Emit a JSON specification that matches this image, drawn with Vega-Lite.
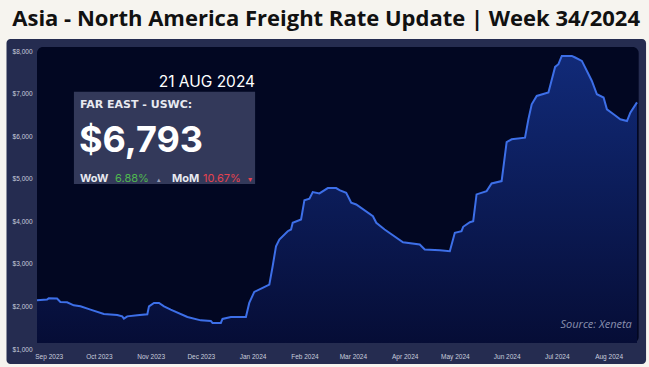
{
  "$schema": "https://vega.github.io/schema/vega-lite/v6.json",
  "autosize": {"type": "none"},
  "padding": {"left": 37, "top": 51, "right": 12, "bottom": 18},
  "width": 600,
  "height": 298,
  "background": "#f6f4ef",
  "config": {"view": {"stroke": null}},
  "data": {"values": [
    {"date": "2023-08-25", "rate": 2144},
    {"date": "2023-08-31", "rate": 2160},
    {"date": "2023-09-01", "rate": 2190},
    {"date": "2023-09-06", "rate": 2184},
    {"date": "2023-09-08", "rate": 2106},
    {"date": "2023-09-12", "rate": 2096},
    {"date": "2023-09-16", "rate": 2026},
    {"date": "2023-09-20", "rate": 2002},
    {"date": "2023-09-26", "rate": 1925},
    {"date": "2023-10-04", "rate": 1824},
    {"date": "2023-10-12", "rate": 1800},
    {"date": "2023-10-15", "rate": 1767},
    {"date": "2023-10-16", "rate": 1713},
    {"date": "2023-10-18", "rate": 1767},
    {"date": "2023-10-24", "rate": 1791},
    {"date": "2023-10-30", "rate": 1814},
    {"date": "2023-10-31", "rate": 2002},
    {"date": "2023-11-03", "rate": 2082},
    {"date": "2023-11-06", "rate": 2082},
    {"date": "2023-11-09", "rate": 2002},
    {"date": "2023-11-13", "rate": 1925},
    {"date": "2023-11-23", "rate": 1753},
    {"date": "2023-12-01", "rate": 1673},
    {"date": "2023-12-07", "rate": 1659},
    {"date": "2023-12-08", "rate": 1612},
    {"date": "2023-12-13", "rate": 1612},
    {"date": "2023-12-14", "rate": 1706},
    {"date": "2023-12-19", "rate": 1753},
    {"date": "2023-12-28", "rate": 1753},
    {"date": "2023-12-30", "rate": 2082},
    {"date": "2024-01-02", "rate": 2341},
    {"date": "2024-01-07", "rate": 2435},
    {"date": "2024-01-11", "rate": 2513},
    {"date": "2024-01-13", "rate": 2944},
    {"date": "2024-01-15", "rate": 3414},
    {"date": "2024-01-17", "rate": 3572},
    {"date": "2024-01-22", "rate": 3767},
    {"date": "2024-01-24", "rate": 3807},
    {"date": "2024-01-25", "rate": 3965},
    {"date": "2024-01-30", "rate": 4042},
    {"date": "2024-02-01", "rate": 4496},
    {"date": "2024-02-04", "rate": 4529},
    {"date": "2024-02-06", "rate": 4685},
    {"date": "2024-02-10", "rate": 4654},
    {"date": "2024-02-15", "rate": 4779},
    {"date": "2024-02-20", "rate": 4779},
    {"date": "2024-02-22", "rate": 4732},
    {"date": "2024-02-26", "rate": 4671},
    {"date": "2024-02-29", "rate": 4435},
    {"date": "2024-03-03", "rate": 4395},
    {"date": "2024-03-13", "rate": 4120},
    {"date": "2024-03-15", "rate": 3965},
    {"date": "2024-03-20", "rate": 3807},
    {"date": "2024-03-31", "rate": 3508},
    {"date": "2024-04-10", "rate": 3454},
    {"date": "2024-04-13", "rate": 3336},
    {"date": "2024-04-22", "rate": 3320},
    {"date": "2024-04-28", "rate": 3296},
    {"date": "2024-05-01", "rate": 3729},
    {"date": "2024-05-05", "rate": 3767},
    {"date": "2024-05-06", "rate": 3871},
    {"date": "2024-05-10", "rate": 3979},
    {"date": "2024-05-12", "rate": 4002},
    {"date": "2024-05-14", "rate": 4631},
    {"date": "2024-05-20", "rate": 4708},
    {"date": "2024-05-23", "rate": 4889},
    {"date": "2024-05-29", "rate": 4944},
    {"date": "2024-06-01", "rate": 5861},
    {"date": "2024-06-04", "rate": 5925},
    {"date": "2024-06-12", "rate": 5965},
    {"date": "2024-06-14", "rate": 6395},
    {"date": "2024-06-16", "rate": 6748},
    {"date": "2024-06-19", "rate": 6944},
    {"date": "2024-06-26", "rate": 7024},
    {"date": "2024-06-30", "rate": 7626},
    {"date": "2024-07-02", "rate": 7689},
    {"date": "2024-07-04", "rate": 7885},
    {"date": "2024-07-10", "rate": 7885},
    {"date": "2024-07-12", "rate": 7847},
    {"date": "2024-07-16", "rate": 7767},
    {"date": "2024-07-20", "rate": 7454},
    {"date": "2024-07-22", "rate": 7296},
    {"date": "2024-07-25", "rate": 6984},
    {"date": "2024-07-29", "rate": 6906},
    {"date": "2024-07-31", "rate": 6631},
    {"date": "2024-08-04", "rate": 6513},
    {"date": "2024-08-08", "rate": 6395},
    {"date": "2024-08-12", "rate": 6355},
    {"date": "2024-08-14", "rate": 6553},
    {"date": "2024-08-18", "rate": 6793}
  ]},
  "layer": [
    {
      "data": {"values": [{}]},
      "mark": {"type": "rect", "color": "#252c50", "cornerRadius": 4},
      "encoding": {
        "x": {"datum": {"year": 2023, "month": 8, "date": 6, "hours": 18}, "type": "temporal"},
        "x2": {"datum": {"year": 2024, "month": 8, "date": 23, "hours": 10}},
        "y": {"datum": 8282, "type": "quantitative"},
        "y2": {"datum": 648}
      }
    },
    {
      "data": {"values": [{}]},
      "mark": {"type": "rect", "color": "#020722", "cornerRadius": 6},
      "encoding": {
        "x": {"datum": {"year": 2023, "month": 8, "date": 25}, "type": "temporal"},
        "x2": {"datum": {"year": 2024, "month": 8, "date": 19}},
        "y": {"datum": 8095, "type": "quantitative"},
        "y2": {"datum": 1140}
      }
    },
    {
      "mark": {"type": "area", "interpolate": "linear", "color": {"gradient": "linear", "x1": 0, "y1": 0, "x2": 0, "y2": 1, "stops": [{"offset": 0, "color": "#112a78"}, {"offset": 1, "color": "#060d36"}]}},
      "encoding": {
        "x": {"field": "date", "type": "temporal"},
        "y": {"field": "rate", "type": "quantitative"},
        "y2": {"datum": 1140}
      }
    },
    {
      "mark": {"type": "line", "color": "#3d6fe8", "strokeWidth": 2},
      "encoding": {
        "x": {
          "field": "date", "type": "temporal",
          "scale": {"domain": [{"year": 2023, "month": 8, "date": 25}, {"year": 2024, "month": 8, "date": 18}]},
          "axis": {"title": null, "format": "%b %Y", "tickCount": {"interval": "month", "step": 1}, "labelFlush": false, "labelOverlap": false, "labelPadding": 4, "ticks": false, "domain": false, "grid": false, "zindex": 1, "labelFont": "Liberation Sans", "labelFontSize": 6.5, "labelColor": "#c9ccdd"}
        },
        "y": {
          "field": "rate", "type": "quantitative",
          "scale": {"domain": [1000, 8000], "nice": false, "zero": false},
          "axis": {"title": null, "values": [1000, 2000, 3000, 4000, 5000, 6000, 7000, 8000], "format": "$,.0f", "labelPadding": 5, "ticks": false, "domain": false, "grid": false, "zindex": 1, "labelFont": "Liberation Sans", "labelFontSize": 6.5, "labelColor": "#c9ccdd"}
        }
      }
    },
    {
      "data": {"values": [{}]},
      "mark": {"type": "rect", "color": "#363c5e", "opacity": 0.95},
      "encoding": {
        "x": {"datum": {"year": 2023, "month": 9, "date": 16, "hours": 2}, "type": "temporal"},
        "x2": {"datum": {"year": 2024, "month": 1, "date": 2, "hours": 12}},
        "y": {"datum": 7044, "type": "quantitative"},
        "y2": {"datum": 4876}
      }
    },
    {
      "data": {"values": [{}]},
      "mark": {"type": "text", "text": "Asia - North America Freight Rate Update | Week 34/2024", "font": "Open Sans", "fontWeight": "bold", "fontSize": 22, "color": "#111111", "align": "center", "baseline": "alphabetic"},
      "encoding": {
        "x": {"datum": {"year": 2024, "month": 2, "date": 14}, "type": "temporal"},
        "y": {"datum": 8588, "type": "quantitative"}
      }
    },
    {
      "data": {"values": [{}]},
      "mark": {"type": "text", "text": "21 AUG 2024", "font": "Inter", "fontSize": 15.5, "color": "#ffffff", "align": "right", "baseline": "alphabetic"},
      "encoding": {
        "x": {"datum": {"year": 2024, "month": 1, "date": 2, "hours": 12}, "type": "temporal"},
        "y": {"datum": 7148, "type": "quantitative"}
      }
    },
    {
      "data": {"values": [{}]},
      "mark": {"type": "text", "text": "FAR EAST - USWC:", "font": "DejaVu Sans", "fontWeight": "bold", "fontSize": 11, "color": "#e8e9f0", "align": "left", "baseline": "alphabetic"},
      "encoding": {
        "x": {"datum": {"year": 2023, "month": 9, "date": 19, "hours": 17}, "type": "temporal"},
        "y": {"datum": 6661, "type": "quantitative"}
      }
    },
    {
      "data": {"values": [{}]},
      "mark": {"type": "text", "text": "$6,793", "font": "Inter", "fontWeight": "bold", "fontSize": 36, "color": "#ffffff", "align": "left", "baseline": "alphabetic"},
      "encoding": {
        "x": {"datum": {"year": 2023, "month": 9, "date": 19, "hours": 2}, "type": "temporal"},
        "y": {"datum": 5628, "type": "quantitative"}
      }
    },
    {
      "data": {"values": [{}]},
      "mark": {"type": "text", "text": "WoW", "font": "Inter", "fontWeight": "bold", "fontSize": 11, "color": "#e8e9f0", "align": "left", "baseline": "alphabetic"},
      "encoding": {
        "x": {"datum": {"year": 2023, "month": 9, "date": 19, "hours": 17}, "type": "temporal"},
        "y": {"datum": 4930, "type": "quantitative"}
      }
    },
    {
      "data": {"values": [{}]},
      "mark": {"type": "text", "text": "6.88%", "font": "Inter", "fontSize": 11, "color": "#4fb84f", "align": "left", "baseline": "alphabetic"},
      "encoding": {
        "x": {"datum": {"year": 2023, "month": 10, "date": 10, "hours": 17}, "type": "temporal"},
        "y": {"datum": 4930, "type": "quantitative"}
      }
    },
    {
      "data": {"values": [{}]},
      "mark": {"type": "text", "text": "▴", "font": "DejaVu Sans", "fontSize": 7, "color": "#9aa0b8", "align": "left", "baseline": "alphabetic"},
      "encoding": {
        "x": {"datum": {"year": 2023, "month": 11, "date": 4, "hours": 19}, "type": "temporal"},
        "y": {"datum": 4930, "type": "quantitative"}
      }
    },
    {
      "data": {"values": [{}]},
      "mark": {"type": "text", "text": "MoM", "font": "Inter", "fontWeight": "bold", "fontSize": 11, "color": "#e8e9f0", "align": "left", "baseline": "alphabetic"},
      "encoding": {
        "x": {"datum": {"year": 2023, "month": 11, "date": 13, "hours": 19}, "type": "temporal"},
        "y": {"datum": 4930, "type": "quantitative"}
      }
    },
    {
      "data": {"values": [{}]},
      "mark": {"type": "text", "text": "10.67%", "font": "Inter", "fontSize": 11, "color": "#e5424f", "align": "left", "baseline": "alphabetic"},
      "encoding": {
        "x": {"datum": {"year": 2023, "month": 12, "date": 2, "hours": 7}, "type": "temporal"},
        "y": {"datum": 4930, "type": "quantitative"}
      }
    },
    {
      "data": {"values": [{}]},
      "mark": {"type": "text", "text": "▾", "font": "DejaVu Sans", "fontSize": 8, "color": "#e5424f", "align": "left", "baseline": "alphabetic"},
      "encoding": {
        "x": {"datum": {"year": 2023, "month": 12, "date": 29, "hours": 7}, "type": "temporal"},
        "y": {"datum": 4930, "type": "quantitative"}
      }
    },
    {
      "data": {"values": [{}]},
      "mark": {"type": "text", "text": "Source: Xeneta", "font": "Open Sans", "fontStyle": "italic", "fontSize": 11, "color": "#8a8fae", "align": "right", "baseline": "alphabetic"},
      "encoding": {
        "x": {"datum": {"year": 2024, "month": 8, "date": 14, "hours": 22}, "type": "temporal"},
        "y": {"datum": 1493, "type": "quantitative"}
      }
    }
  ]
}
